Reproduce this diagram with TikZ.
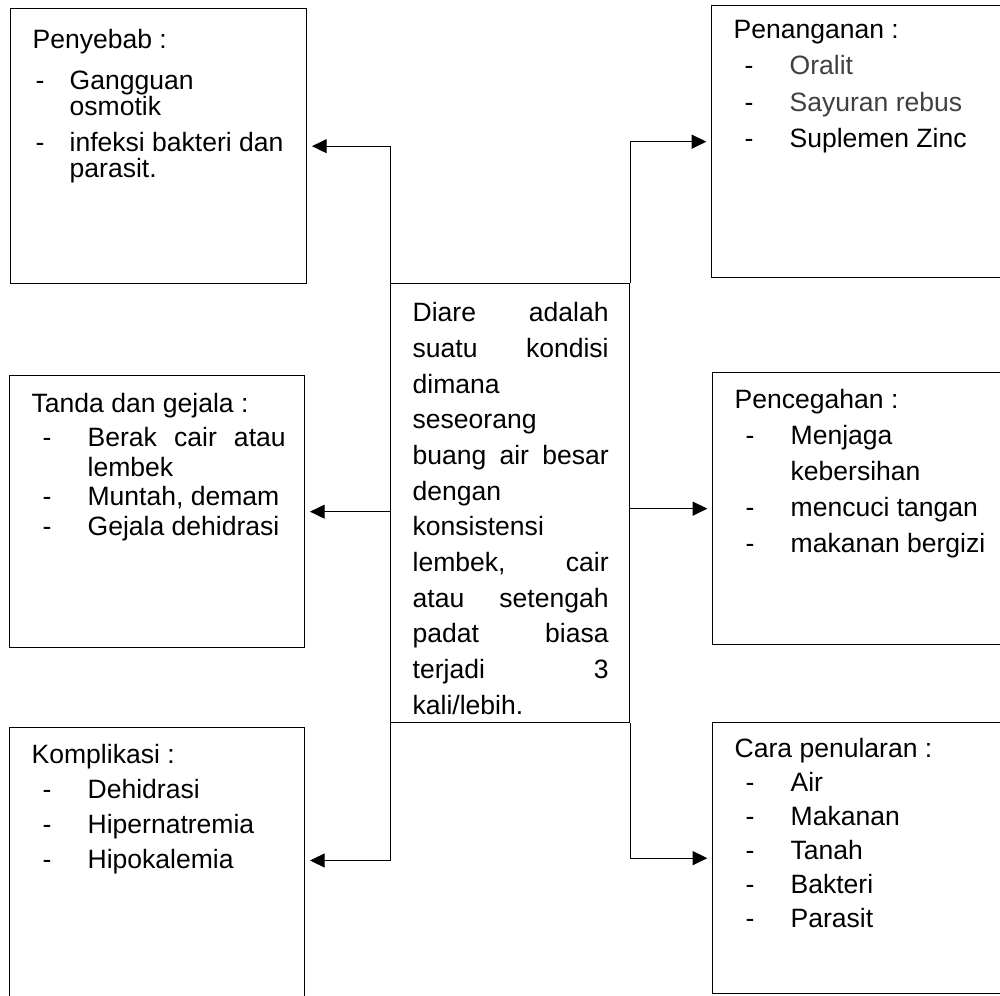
\documentclass[tikz,border=0pt]{standalone}
\usepackage{fontspec}
\setmainfont{Liberation Sans}
\usetikzlibrary{arrows.meta,calc}

\newlength\pxl \setlength\pxl{0.75pt}
\newlength\dashoff \setlength\dashoff{11\pxl}
\newlength\itemoff \setlength\itemoff{56\pxl}
\newcommand{\itm}[1]{\makebox[\itemoff][l]{\hspace*{\dashoff}-}#1}
\newcommand{\lanjut}[1]{\hspace*{\itemoff}#1}
% height, width, first baseline, line skip, text
\newcommand{\isi}[5]{\parbox[c][#1][t]{#2}{\setlength\parindent{0pt}%
  \setlength\leftskip{22\pxl}\setlength\baselineskip{#4}\rule{0pt}{#3}#5}}
\colorlet{abu}{black!75}

\tikzset{kotak/.style={draw,line width=1pt,inner sep=0pt,anchor=north west,
    font=\fontsize{19.9pt}{24pt}\selectfont},
  garis/.style={line width=0.7pt,shorten >=3.5pt}}

\begin{document}
\begin{tikzpicture}[x=0.75pt,y=-0.75pt,>={Triangle[length=11pt,width=10.5pt]}]
    \useasboundingbox (0,0) rectangle (1000,996);
    \clip (0,0) rectangle (1000,996);

    \node[kotak] (pusat) at (390,283) {\isi{439\pxl}{239\pxl}{38\pxl}{35.7\pxl}{%
      \setlength\rightskip{21\pxl}%
      Diare\hfill adalah\\ suatu\hfill kondisi\\ dimana\\ seseorang\\
      buang\hfill air\hfill besar\\ dengan\\ konsistensi\\ lembek,\hfill cair\\
      atau\hfill setengah\\ padat\hfill biasa\\ terjadi\hfill 3\\ kali/lebih.}};

    \node[kotak] (sebab) at (10,8) {\isi{275\pxl}{296\pxl}{40\pxl}{26\pxl}{%
      \setlength\dashoff{3\pxl}\setlength\itemoff{37\pxl}%
      Penyebab :\\[14.5\pxl]
      \itm{Gangguan}\\ \lanjut{osmotik}\\[10\pxl]
      \itm{infeksi bakteri dan}\\ \lanjut{parasit.}}};
    \node[kotak] (gejala) at (9,375) {\isi{272\pxl}{295\pxl}{37\pxl}{29.5\pxl}{%
      Tanda dan gejala :\\[4.5\pxl]
      \itm{\makebox[198\pxl][s]{Berak cair atau}}\\ \lanjut{lembek}\\
      \itm{Muntah, demam}\\ \itm{Gejala dehidrasi}}};
    \node[kotak] (komplikasi) at (9,727) {\isi{300\pxl}{295\pxl}{36\pxl}{35\pxl}{%
      Komplikasi :\\ \itm{Dehidrasi}\\ \itm{Hipernatremia}\\ \itm{Hipokalemia}}};

    \node[kotak] (tangani) at (711,5) {\isi{272\pxl}{320\pxl}{33\pxl}{36.3\pxl}{%
      Penanganan :\\ \itm{\textcolor{abu}{Oralit}}\\
      \itm{\textcolor{abu}{Sayuran rebus}}\\ \itm{Suplemen Zinc}}};
    \node[kotak] (cegah) at (712,372) {\isi{272\pxl}{320\pxl}{36\pxl}{36\pxl}{%
      Pencegahan :\\ \itm{Menjaga}\\ \lanjut{kebersihan}\\
      \itm{mencuci tangan}\\ \itm{makanan bergizi}}};
    \node[kotak] (tular) at (712,722) {\isi{271\pxl}{320\pxl}{35\pxl}{34\pxl}{%
      Cara penularan :\\ \itm{Air}\\ \itm{Makanan}\\ \itm{Tanah}\\
      \itm{Bakteri}\\ \itm{Parasit}}};

    \draw[garis,->] (pusat.north west) |- (sebab.east);
    \draw[garis,->] (gejala.east -| pusat.west) -- (gejala.east);
    \draw[garis,->] (pusat.south west)
      |- ($(komplikasi.north east)!0.443!(komplikasi.south east)$);
    \draw[garis,->] (pusat.north east) |- (tangani.west);
    \draw[garis,->] (cegah.west -| pusat.east) -- (cegah.west);
    \draw[garis,->] (pusat.south east) |- (tular.west);
\end{tikzpicture}
\end{document}
